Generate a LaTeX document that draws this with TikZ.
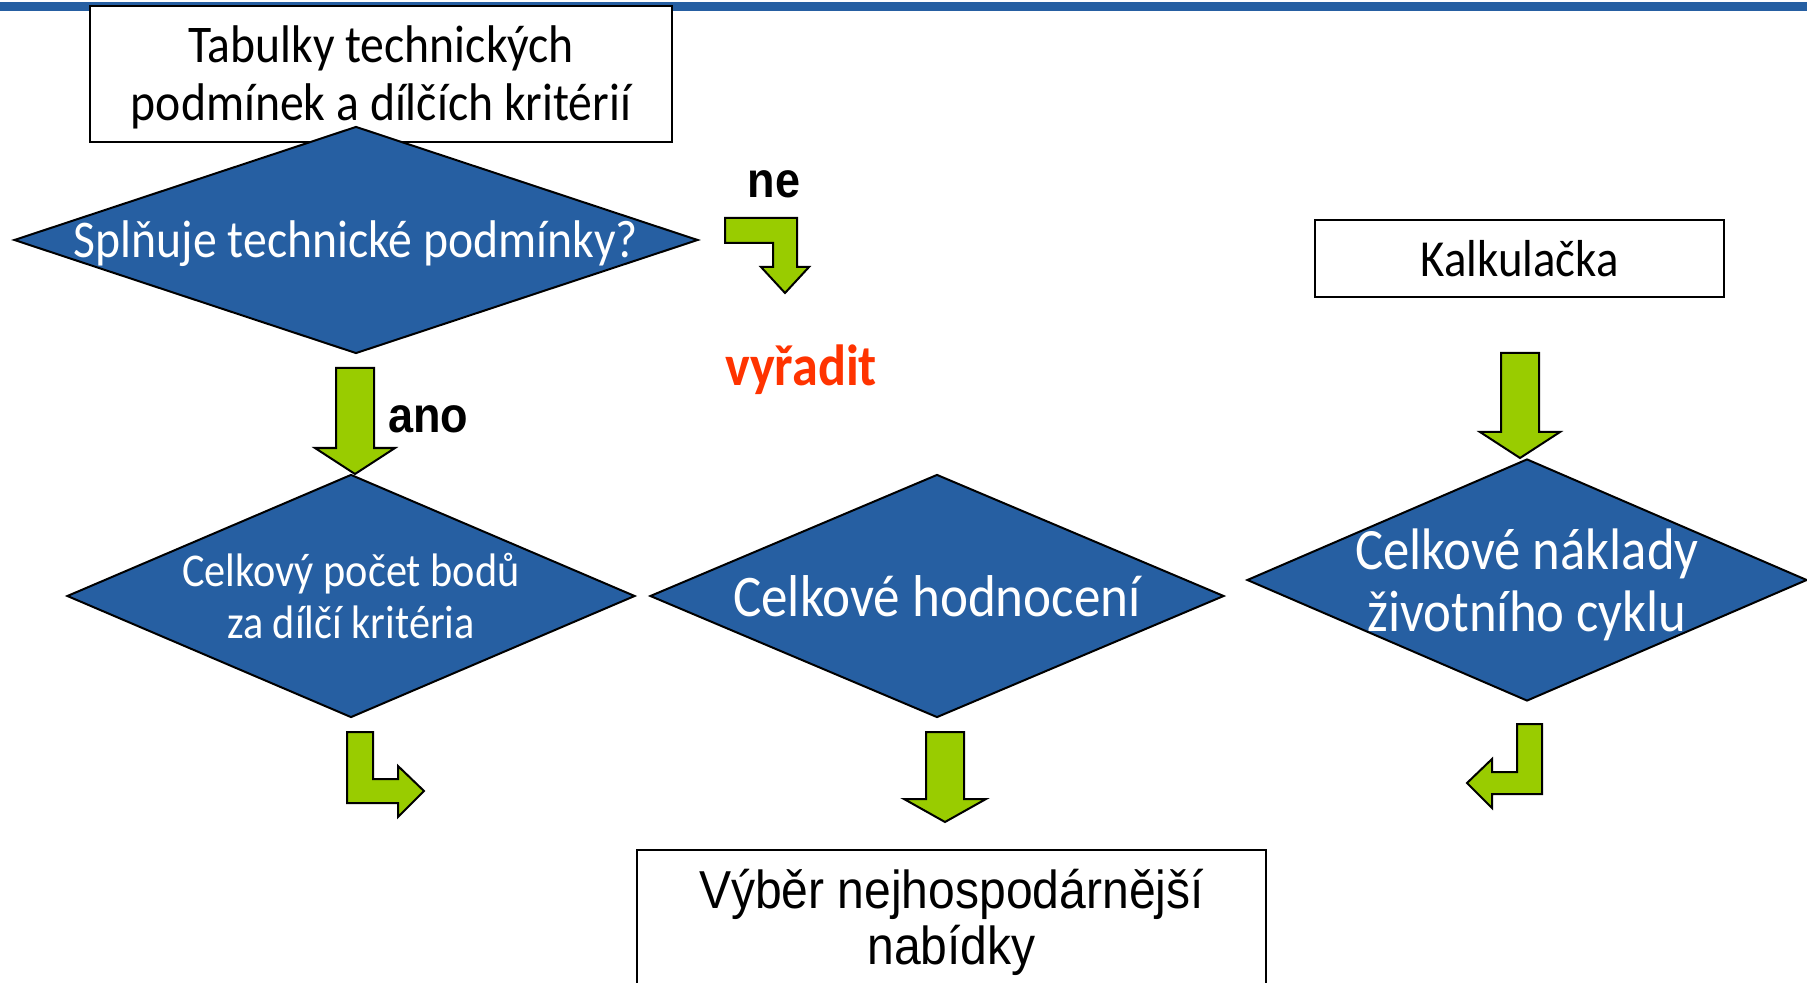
\documentclass[tikz,border=0pt]{standalone}
\usepackage{fontspec}
\setmainfont{Carlito}[FakeStretch=0.9]
\newfontfamily\arialfont{Liberation Sans}[FakeStretch=0.9]
\usetikzlibrary{shapes.geometric}
\definecolor{slideblue}{RGB}{38,95,162}
\definecolor{arrowgreen}{RGB}{153,204,0}
\definecolor{dropred}{RGB}{255,51,0}

\begin{document}
\begin{tikzpicture}[x=0.5pt, y=-0.5pt,
    decision/.style={diamond, draw=black, line width=1pt, fill=slideblue, inner sep=0pt},
    dtext/.style={text=white, align=center},
    box/.style={rectangle, draw=black, line width=0.8pt, fill=white, inner sep=0pt},
    btext/.style={align=center},
    greenarrow/.style={draw=black, line width=1pt, fill=arrowgreen, line join=miter},
    answer/.style={font=\arialfont\bfseries\fontsize{25}{30}\selectfont, anchor=base}]

    \useasboundingbox (0,0) rectangle (1807,983);
    \clip (0,0) rectangle (1807,983);
    \fill[slideblue] (0,2) rectangle (1807,11);

    % boxes
    \node[box, minimum width=291pt, minimum height=68pt,
        label={[btext, yshift=-1.5pt, font=\fontsize{26.5}{29}\selectfont]center:{Tabulky technických\\podmínek a dílčích kritérií}}] (tabulky) at (381,74) {};
    \node[box, minimum width=204.5pt, minimum height=38.5pt,
        label={[btext, font=\fontsize{26}{30}\selectfont]center:Kalkulačka}] (kalk) at (1519.5,258.5) {};
    \node[box, minimum width=314.5pt, minimum height=69pt,
        label={[btext, yshift=-1.5pt, font=\arialfont\fontsize{26.7}{28}\selectfont]center:{Výběr nejhospodárnější\\nabídky}}] (vyber) at (951.5,919) {};

    % decisions
    \node[decision, minimum width=342pt, minimum height=113.5pt,
        label={[dtext, yshift=-2pt, font=\fontsize{26.5}{30}\selectfont]center:Splňuje technické podmínky?}] (splnuje) at (356,240) {};
    \node[decision, minimum width=284pt, minimum height=121.5pt,
        label={[dtext, font=\fontsize{23.5}{26}\selectfont]center:{Celkový počet bodů\\za dílčí kritéria}}] (body) at (351,596) {};
    \node[decision, minimum width=287pt, minimum height=121.5pt,
        label={[dtext, font=\fontsize{29.5}{32}\selectfont]center:Celkové hodnocení}] (hodnoceni) at (937,596) {};
    \node[decision, minimum width=280pt, minimum height=121pt,
        label={[dtext, yshift=-2.5pt, font=\fontsize{29.3}{31}\selectfont]center:{Celkové náklady\\životního cyklu}}] (naklady) at (1527,580) {};

    % answers
    \node[answer] (ne) at (774,198) {ne};
    \node[answer] (ano) at (428,433) {ano};
    \node[font=\bfseries\fontsize{29}{32}\selectfont, text=dropred, anchor=base] (vyradit) at (801,386) {vyřadit};

    % green block arrows
    \coordinate (nearr) at (725,218);
    \coordinate (anoarr) at (355,368);
    \coordinate (kalkarr) at (1520,353);
    \coordinate (bodyarr) at (347,732);
    \coordinate (hodnarr) at (945,732);
    \coordinate (nakarr) at (1542,724);

    \draw[greenarrow] (nearr) -- ++(72,0) -- ++(0,49) -- ++(12,0) -- ++(-24,26) -- ++(-24,-26) -- ++(12,0) -- ++(0,-24) -- ++(-48,0) -- cycle;
    \draw[greenarrow] (anoarr) ++(-19,0) -- ++(38,0) -- ++(0,80) -- ++(21,0) -- ++(-40,26) -- ++(-40,-26) -- ++(21,0) -- cycle;
    \draw[greenarrow] (kalkarr) ++(-19,0) -- ++(38,0) -- ++(0,79) -- ++(21,0) -- ++(-40,26) -- ++(-40,-26) -- ++(21,0) -- cycle;
    \draw[greenarrow] (hodnarr) ++(-19,0) -- ++(38,0) -- ++(0,67) -- ++(22,0) -- ++(-41,23) -- ++(-41,-23) -- ++(22,0) -- cycle;
    \draw[greenarrow] (bodyarr) -- ++(26,0) -- ++(0,47) -- ++(25,0) -- ++(0,-13) -- ++(26,25) -- ++(-26,26) -- ++(0,-14) -- ++(-51,0) -- cycle;
    \draw[greenarrow] (nakarr) -- ++(0,70) -- ++(-50,0) -- ++(0,14) -- ++(-25,-25) -- ++(25,-24) -- ++(0,13) -- ++(25,0) -- ++(0,-48) -- cycle;
\end{tikzpicture}
\end{document}
